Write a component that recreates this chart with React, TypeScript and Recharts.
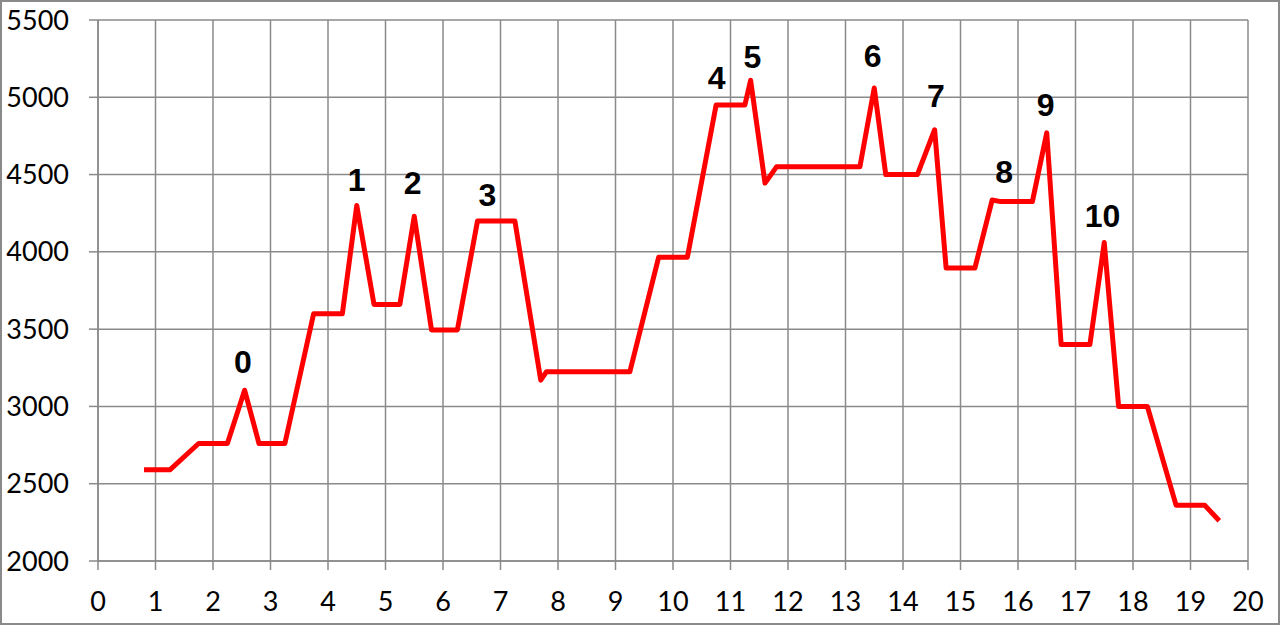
import React from 'react';
import { LineChart, Line, XAxis, YAxis, CartesianGrid, Scatter, LabelList } from 'recharts';

// x positions and values of the red line
const xs = [
  0.8, 1.25, 1.75, 2.25, 2.55, 2.8, 3.25, 3.75, 4.25, 4.5, 4.8, 5.25, 5.5, 5.8, 6.25, 6.6,
  7.25, 7.7, 7.8, 9.25, 9.75, 10.25, 10.75, 11.25, 11.35, 11.6, 11.8, 13.25, 13.5, 13.7,
  14.25, 14.55, 14.75, 15.25, 15.55, 15.7, 16.25, 16.5, 16.75, 17.25, 17.5, 17.75, 18.25,
  18.75, 19.25, 19.5,
];
const values = [
  2590, 2590, 2760, 2760, 3105, 2760, 2760, 3600, 3600, 4300, 3660, 3660, 4230, 3495, 3495, 4200,
  4200, 3170, 3225, 3225, 3965, 3965, 4950, 4950, 5110, 4445, 4550, 4550, 5060, 4500,
  4500, 4790, 3895, 3895, 4335, 4325, 4325, 4770, 3400, 3400, 4060, 3000, 3000,
  2360, 2360, 2260,
];

// numbered peak labels
const labelTexts = ['0', '1', '2', '3', '4', '5', '6', '7', '8', '9', '10'];
const labelXs = [2.52, 4.5, 5.47, 6.77, 10.76, 11.38, 13.47, 14.57, 15.76, 16.48, 17.47];
const labelYs = [3288, 4465, 4446, 4368, 5125, 5261, 5267, 5008, 4517, 4950, 4232];

const xTicks = Array.from({ length: 21 }, (_, i) => i);
const yTicks = [2000, 2500, 3000, 3500, 4000, 4500, 5000, 5500];

const lineData = xs.map((x, i) => ({ x, v: values[i] }));
const labelData = labelXs.map((x, i) => ({ x, v: labelYs[i], t: labelTexts[i] }));

const grey = '#8a8a8a';
const tickStyle = { fill: '#000', fontSize: 27, fontFamily: 'Lato, sans-serif' };

const PeakLabel = (props: any) => {
  const { viewBox, value } = props;
  // centre of the (invisible) scatter symbol
  const cx = viewBox.x + (viewBox.width || 0) / 2;
  const cy = viewBox.y + (viewBox.height || 0) / 2;
  return (
    <text
      x={cx}
      y={cy}
      textAnchor="middle"
      dominantBaseline="central"
      fontFamily="'Liberation Sans', Arial, sans-serif"
      fontWeight="bold"
      fontSize={32}
      fill="#000"
    >
      {value}
    </text>
  );
};

export default function App() {
  return (
    <div
      style={{
        position: 'absolute',
        left: 0,
        top: 0,
        width: 1280,
        height: 625,
        background: '#fff',
        boxShadow: `inset 0 0 0 2px ${grey}`,
      }}
    >
      <LineChart width={1280} height={625} data={lineData} margin={{ top: 20, right: 32, bottom: 0, left: 0 }}>
        <CartesianGrid stroke={grey} strokeWidth={1.5} />
        <XAxis
          dataKey="x"
          type="number"
          domain={[0, 20]}
          ticks={xTicks}
          interval={0}
          height={64}
          stroke={grey}
          strokeWidth={1.5}
          tickSize={9}
          tickMargin={22}
          tick={tickStyle}
        />
        <YAxis
          type="number"
          domain={[2000, 5500]}
          ticks={yTicks}
          interval={0}
          width={98}
          stroke={grey}
          strokeWidth={1.5}
          tickSize={9}
          tickMargin={20}
          tick={tickStyle}
        />
        <Line
          dataKey="v"
          type="linear"
          stroke="#ff0000"
          strokeWidth={5}
          strokeLinejoin="round"
          dot={false}
          activeDot={false}
          isAnimationActive={false}
        />
        <Scatter data={labelData} dataKey="v" shape={() => <g />} isAnimationActive={false}>
          <LabelList dataKey="t" content={<PeakLabel />} />
        </Scatter>
      </LineChart>
    </div>
  );
}
